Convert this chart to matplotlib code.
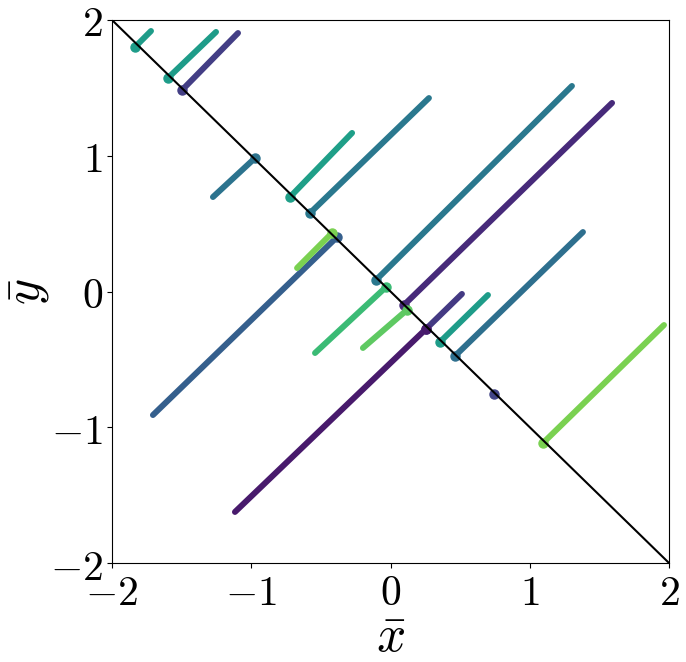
import matplotlib
matplotlib.use("Agg")
import matplotlib.pyplot as plt
import numpy as np

plt.rcParams['mathtext.fontset'] = 'cm'
plt.rcParams['font.family'] = 'serif'
plt.rcParams['font.serif'] = ['DejaVu Serif']

# trajectories: start point (marker, on the diagonal) and end point
start_x = [-1.835, -1.598, -1.497, -0.973, -0.722, -0.578, -0.104, 0.097, -0.384, -0.420,
           -0.032, 0.118, 0.255, 0.255, 0.355, 0.463, 0.743, 1.095]
start_y = [1.801, 1.573, 1.484, 0.983, 0.696, 0.578, 0.085, -0.099, 0.401, 0.431,
           0.033, -0.136, -0.276, -0.276, -0.372, -0.475, -0.755, -1.116]
end_x = [-1.720, -1.253, -1.095, -1.275, -0.276, 0.276, 1.303, 1.591, -1.706, -0.671,
         -0.542, -0.198, 0.513, -1.117, 0.700, 1.382, 0.743, 1.964]
end_y = [1.919, 1.912, 1.904, 0.696, 1.168, 1.425, 1.514, 1.389, -0.910, 0.173,
         -0.453, -0.416, -0.018, -1.624, -0.026, 0.438, -0.755, -0.247]
color_val = [0.55, 0.55, 0.18, 0.38, 0.56, 0.40, 0.40, 0.12, 0.30, 0.80,
             0.68, 0.75, 0.17, 0.07, 0.55, 0.36, 0.20, 0.80]

xticks = [-2, -1, 0, 1, 2]
yticks = [-2, -1, 0, 1, 2]
tick_labels = [r'$-2$', r'$-1$', r'$0$', r'$1$', r'$2$']

fig = plt.figure(figsize=(6.86, 6.62), dpi=100)
ax = fig.add_axes([112/686, 1-563/662, (669-112)/686, (563-20)/662])

cmap = plt.get_cmap('viridis')
for sx, sy, ex, ey, cv in zip(start_x, start_y, end_x, end_y, color_val):
    c = cmap(cv)
    ax.plot([sx, ex], [sy, ey], color=c, lw=4.3, solid_capstyle='round', zorder=2)
    ax.plot([sx], [sy], marker='o', ms=6.5, color=c, zorder=3)

ax.plot([-2, 2], [2, -2], color='black', lw=1.5, zorder=4)

ax.set_xlim(-2, 2)
ax.set_ylim(-2, 2)
ax.set_xticks(xticks)
ax.set_xticklabels(tick_labels)
ax.set_yticks(yticks)
ax.set_yticklabels(tick_labels)
ax.tick_params(labelsize=30, pad=3)
ax.set_xlabel(r'$\bar{x}$', fontsize=37, labelpad=0)
ax.set_ylabel(r'$\bar{y}$', fontsize=36)
ax.yaxis.set_label_coords(-0.108, 0.5)

fig.savefig('out.png', dpi=100)
